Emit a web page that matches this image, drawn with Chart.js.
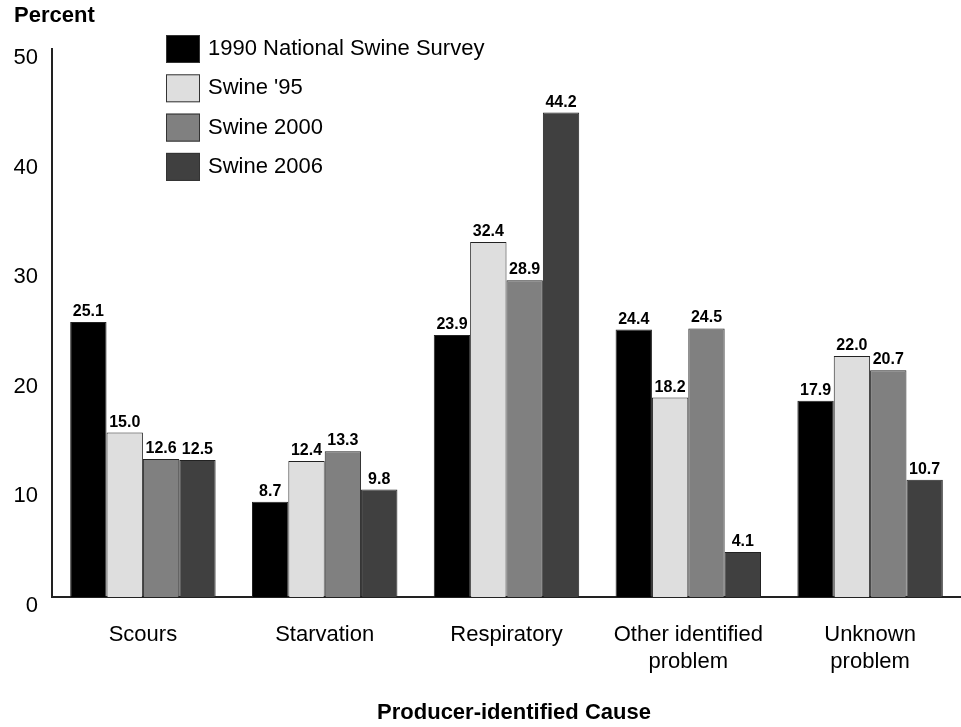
<!DOCTYPE html>
<html>
<head>
<meta charset="utf-8">
<script src="https://cdn.jsdelivr.net/npm/chart.js@4"></script>
<style>
  html, body { margin: 0; padding: 0; background: #fff; }
  #wrap { width: 961px; height: 727px; position: relative; }
</style>
</head>
<body>
<div id="wrap"><canvas id="chart"></canvas></div>
<script>
// Categories and series
const causes = ['Scours', 'Starvation', 'Respiratory', ['Other identified', 'problem'], ['Unknown', 'problem']];
const seriesNames = ['1990 National Swine Survey', "Swine '95", 'Swine 2000', 'Swine 2006'];
const survey1990 = [25.1, 8.7, 23.9, 24.4, 17.9];
const swine95 = [15.0, 12.4, 32.4, 18.2, 22.0];
const swine2000 = [12.6, 13.3, 28.9, 24.5, 20.7];
const swine2006 = [12.5, 9.8, 44.2, 4.1, 10.7];
const yTicks = [0, 10, 20, 30, 40, 50];

const FONT = '"Liberation Sans", Arial, sans-serif';
const fills = ['#000000', '#dedede', '#808080', '#404040'];
const allSeries = [survey1990, swine95, swine2000, swine2006];

// Value labels above each bar
const valueLabels = {
    id: 'valueLabels',
    afterDatasetsDraw(chart) {
        const ctx = chart.ctx;
        ctx.save();
        ctx.font = 'bold 16px ' + FONT;
        ctx.fillStyle = '#000';
        ctx.textAlign = 'center';
        ctx.textBaseline = 'alphabetic';
        chart.data.datasets.forEach((ds, i) => {
            chart.getDatasetMeta(i).data.forEach((bar, j) => {
                ctx.fillText(ds.data[j].toFixed(1), bar.x, bar.y - 6);
            });
        });
        ctx.restore();
    }
};

// Legend boxes, "Percent" heading and the axis title
const extras = {
    id: 'extras',
    afterDraw(chart) {
        const ctx = chart.ctx;
        ctx.save();
        ctx.font = 'bold 22px ' + FONT;
        ctx.fillStyle = '#000';
        ctx.textAlign = 'left';
        ctx.textBaseline = 'middle';
        ctx.fillText('Percent', 14, 16);

        ctx.textAlign = 'center';
        ctx.fillText('Producer-identified Cause', 514, 713);

        ctx.textAlign = 'left';
        ctx.font = '22px ' + FONT;
        chart.data.datasets.forEach((ds, i) => {
            const y = 35 + i * 39.3;
            ctx.fillStyle = ds.backgroundColor;
            ctx.fillRect(166, y, 34, 28);
            ctx.strokeStyle = '#333';
            ctx.lineWidth = 1;
            ctx.strokeRect(166.5, y + 0.5, 33, 27);
            ctx.fillStyle = '#000';
            ctx.fillText(ds.label, 208, y + 14);
        });
        ctx.restore();
    }
};

new Chart(document.getElementById('chart'), {
    type: 'bar',
    data: {
        labels: causes,
        datasets: allSeries.map((values, i) => ({
            label: seriesNames[i],
            data: values,
            backgroundColor: fills[i],
            borderColor: '#222',
            borderWidth: 1,
            barPercentage: 1.0,
            categoryPercentage: 0.8
        }))
    },
    options: {
        responsive: true,
        maintainAspectRatio: false,
        animation: false,
        layout: { padding: { top: 49, left: 0, right: 0, bottom: 0 } },
        plugins: {
            legend: { display: false },
            tooltip: { enabled: false }
        },
        scales: {
            x: {
                grid: { display: false, drawTicks: false },
                border: { display: true, color: '#222', width: 2 },
                ticks: {
                    color: '#000',
                    padding: 24,
                    maxRotation: 0,
                    font: { family: FONT, size: 22, lineHeight: 1.25 }
                },
                afterFit(scale) { scale.height = 130; }
            },
            y: {
                min: 0,
                max: 50,
                afterBuildTicks(scale) { scale.ticks = yTicks.map(v => ({ value: v })); },
                grid: { display: false, drawTicks: false },
                border: { display: true, color: '#222', width: 2 },
                ticks: {
                    color: '#000',
                    padding: 14,
                    labelOffset: 9,
                    font: { family: FONT, size: 22 }
                },
                afterFit(scale) { scale.width = 52; }
            }
        }
    },
    plugins: [valueLabels, extras]
});
</script>
</body>
</html>
